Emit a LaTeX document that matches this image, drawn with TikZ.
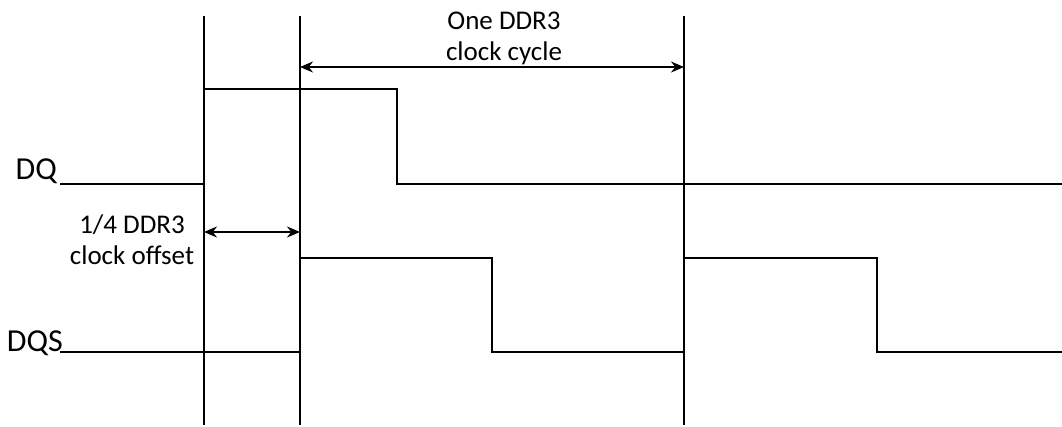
\documentclass[tikz,border=0pt]{standalone}
\usepackage{fontspec}
\setmainfont{Carlito}
\usetikzlibrary{arrows.meta}
\begin{document}
\begin{tikzpicture}[x=1pt,y=-1pt,
  grid/.style={line width=1.4pt, black},
  wave/.style={line width=2.8pt, black, line join=miter},
  span/.style={line width=1.8pt, {Stealth[length=13pt,width=11pt]}-{Stealth[length=13pt,width=11pt]}},
  sig/.style={font=\fontsize{32}{34}\selectfont, inner sep=0pt},
  note/.style={font=\fontsize{27}{31}\selectfont, align=center, inner sep=0pt}]
\useasboundingbox (0,0) rectangle (1062,427);
% vertical timing marks
\foreach \n/\x in {a/204, b/300, c/684} {
  \coordinate (\n top) at (\x,16);
  \coordinate (\n bot) at (\x,425);
  \draw[grid] (\n top) -- (\n bot);
}
% DQ waveform
\coordinate (dq0) at (60,184);
\coordinate (dq1) at (204,184);
\coordinate (dq2) at (204,89);
\coordinate (dq3) at (397,89);
\coordinate (dq4) at (397,184);
\coordinate (dq5) at (1062,184);
\draw[wave] (dq0) -- (dq1) -- (dq2) -- (dq3) -- (dq4) -- (dq5);
% DQS waveform
\coordinate (s0) at (60,352);
\coordinate (s1) at (300,352);
\coordinate (s2) at (300,258);
\coordinate (s3) at (492,258);
\coordinate (s4) at (492,352);
\coordinate (s5) at (684,352);
\coordinate (s6) at (684,258);
\coordinate (s7) at (877,258);
\coordinate (s8) at (877,352);
\coordinate (s9) at (1062,352);
\draw[wave] (s0) -- (s1) -- (s2) -- (s3) -- (s4) -- (s5) -- (s6) -- (s7) -- (s8) -- (s9);
% signal names
\node[sig, anchor=base east] (dqlab) at (57,180) {DQ};
\node[sig, anchor=base east] (dqslab) at (63,352) {DQS};
% spans
\coordinate (cycL) at (300,67);
\coordinate (cycR) at (684,67);
\draw[span] (cycL) -- (cycR);
\node[note] (cyclab) at (504,38) {One DDR3\\clock cycle};
\coordinate (offL) at (204,232);
\coordinate (offR) at (300,232);
\draw[span] (offL) -- (offR);
\node[note] (offlab) at (132,240) {1/4 DDR3\\clock offset};
\end{tikzpicture}
\end{document}
